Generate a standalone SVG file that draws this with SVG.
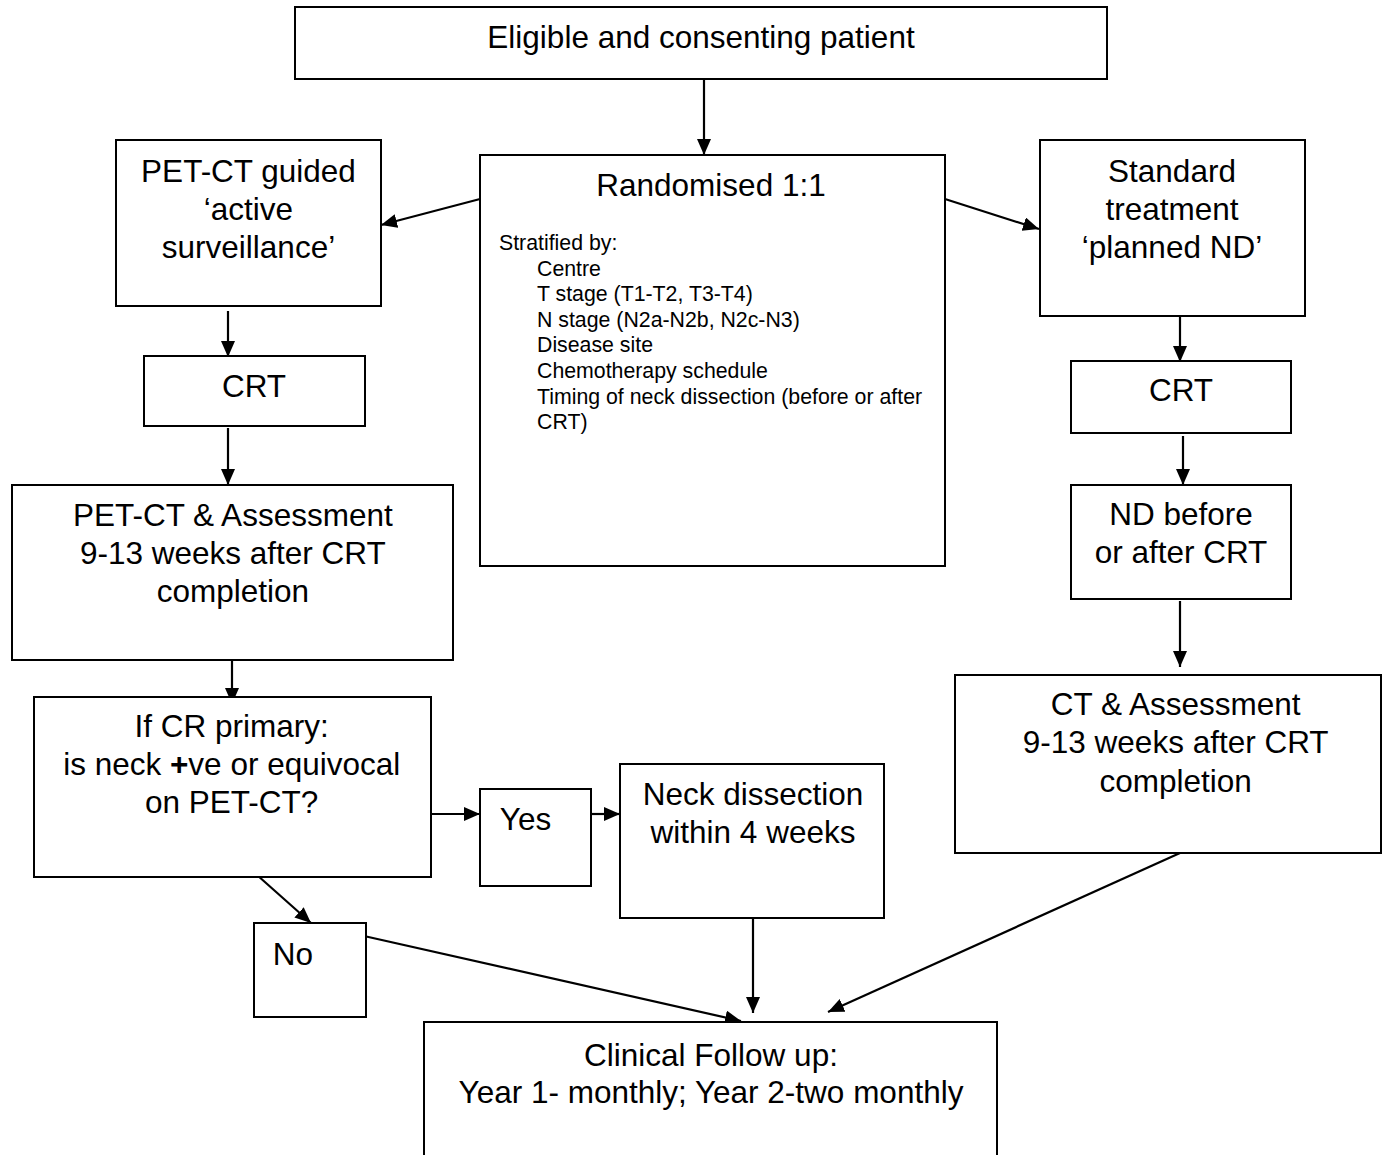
<svg xmlns="http://www.w3.org/2000/svg" width="1382" height="1155" viewBox="0 0 1382 1155">
<defs>
<marker id="ah" markerUnits="userSpaceOnUse" markerWidth="17" markerHeight="15" refX="16" refY="7" orient="auto">
<path d="M0,0 L16,7 L0,14 z" fill="#000"/>
</marker>
</defs>
<style>
rect{fill:#fff;stroke:#000;stroke-width:2}
text{font-family:"Liberation Sans",Arial,sans-serif;font-size:31.5px;fill:#000;text-anchor:middle}
.s{font-size:21.3px;text-anchor:start}
#connectors line{stroke:#000;stroke-width:2.2;marker-end:url(#ah)}
</style>
<rect x="0" y="0" width="1382" height="1155" style="stroke:none"/>
<g id="connectors">
<line x1="704" y1="79" x2="704" y2="155"/>
<line x1="480" y1="199" x2="381" y2="225"/>
<line x1="945" y1="199" x2="1039" y2="229"/>
<line x1="228" y1="311" x2="228" y2="357"/>
<line x1="228" y1="428" x2="228" y2="485"/>
<line x1="232" y1="660" x2="232" y2="704"/>
<line x1="431" y1="814" x2="480" y2="814"/>
<line x1="591" y1="814" x2="620" y2="814"/>
<line x1="257" y1="875" x2="311" y2="923"/>
<line x1="364" y1="936" x2="741" y2="1021"/>
<line x1="753" y1="918" x2="753" y2="1013"/>
<line x1="1180" y1="853" x2="828" y2="1012"/>
<line x1="1180" y1="316" x2="1180" y2="362"/>
<line x1="1183" y1="436" x2="1183" y2="485"/>
<line x1="1180" y1="601" x2="1180" y2="667"/>
</g>
<g id="n-eligible">
<rect x="295" y="7" width="812" height="72"/>
<text x="701" y="47.5">Eligible and consenting patient</text>
</g>
<g id="n-randomised">
<rect x="480" y="155" width="465" height="411"/>
<text x="711" y="195.5">Randomised 1:1</text>
<text class="s" x="499" y="250">Stratified by:</text>
<text class="s" x="537" y="275.6">Centre</text>
<text class="s" x="537" y="301.2">T stage (T1-T2, T3-T4)</text>
<text class="s" x="537" y="326.8">N stage (N2a-N2b, N2c-N3)</text>
<text class="s" x="537" y="352.4">Disease site</text>
<text class="s" x="537" y="378">Chemotherapy schedule</text>
<text class="s" x="537" y="403.6">Timing of neck dissection (before or after</text>
<text class="s" x="537" y="429.2">CRT)</text>
</g>
<g id="n-petct-guided">
<rect x="116" y="140" width="265" height="166"/>
<text x="248.5" y="181.7">PET-CT guided</text>
<text x="248.5" y="219.7">‘active</text>
<text x="248.5" y="257.7">surveillance’</text>
</g>
<g id="n-standard">
<rect x="1040" y="140" width="265" height="176"/>
<text x="1172" y="181.7">Standard</text>
<text x="1172" y="219.7">treatment</text>
<text x="1172" y="257.7">‘planned ND’</text>
</g>
<g id="n-crt-left">
<rect x="144" y="356" width="221" height="70"/>
<text x="254" y="397.3">CRT</text>
</g>
<g id="n-petct-assess">
<rect x="12" y="485" width="441" height="175"/>
<text x="232.8" y="525.6">PET-CT &amp; Assessment</text>
<text x="232.8" y="563.6">9-13 weeks after CRT</text>
<text x="232.8" y="601.6">completion</text>
</g>
<g id="n-ifcr">
<rect x="34" y="697" width="397" height="180"/>
<text x="231.7" y="737">If CR primary:</text>
<text x="231.7" y="775">is neck <tspan font-weight="bold">+</tspan>ve or equivocal</text>
<text x="231.7" y="813">on PET-CT?</text>
</g>
<g id="n-yes">
<rect x="480" y="789" width="111" height="97"/>
<text x="525.5" y="830">Yes</text>
</g>
<g id="n-neck-dissection">
<rect x="620" y="764" width="264" height="154"/>
<text x="753" y="805">Neck dissection</text>
<text x="753" y="843">within 4 weeks</text>
</g>
<g id="n-no">
<rect x="254" y="923" width="112" height="94"/>
<text x="293" y="965">No</text>
</g>
<g id="n-followup">
<rect x="424" y="1022" width="573" height="200"/>
<text x="711" y="1065.5">Clinical Follow up:</text>
<text x="711" y="1103">Year 1- monthly; Year 2-two monthly</text>
</g>
<g id="n-crt-right">
<rect x="1071" y="361" width="220" height="72"/>
<text x="1181" y="401">CRT</text>
</g>
<g id="n-nd">
<rect x="1071" y="485" width="220" height="114"/>
<text x="1181" y="524.5">ND before</text>
<text x="1181" y="563">or after CRT</text>
</g>
<g id="n-ct-assess">
<rect x="955" y="675" width="426" height="178"/>
<text x="1175.7" y="715">CT &amp; Assessment</text>
<text x="1175.7" y="753.3">9-13 weeks after CRT</text>
<text x="1175.7" y="791.7">completion</text>
</g>
</svg>
